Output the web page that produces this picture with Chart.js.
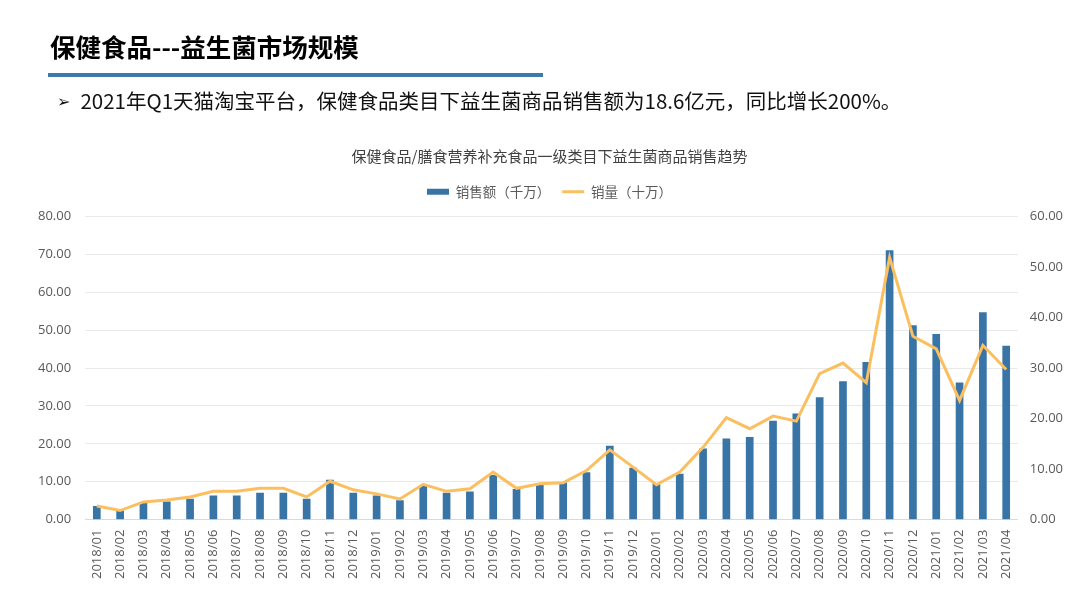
<!DOCTYPE html>
<html>
<head>
<meta charset="utf-8">
<script src="https://cdn.jsdelivr.net/npm/chart.js@4/dist/chart.umd.min.js"></script>
<style>
  body { margin: 0; background: #fff; }
  #page { position: relative; width: 1080px; height: 601px; overflow: hidden; font-family: "Noto Sans CJK SC", sans-serif; }
  #head { position: absolute; left: 50px; top: 30px; font-size: 25.5px; font-weight: bold; line-height: 32px; color: #000; }
  #rule { position: absolute; left: 48px; top: 73px; width: 495px; height: 4px; background: #3c7aab; }
  #sub { position: absolute; left: 57px; top: 86px; font-size: 20.5px; line-height: 28px; color: #111; }
  #sub .mark { font-family: "DejaVu Sans", sans-serif; font-size: 16px; margin-right: 10px; vertical-align: 2px; }
  #box { position: absolute; left: 0; top: 0; width: 1080px; height: 601px; }
</style>
</head>
<body>
<div id="page">
  <div id="box"><canvas id="salesChart"></canvas></div>
  <div id="head">保健食品---益生菌市场规模</div>
  <div id="rule"></div>
  <div id="sub"><span class="mark">➢</span>2021年Q1天猫淘宝平台，保健食品类目下益生菌商品销售额为18.6亿元，同比增长200%。</div>
</div>
<script>
// 月份
const months = [
  '2018/01','2018/02','2018/03','2018/04','2018/05','2018/06','2018/07','2018/08','2018/09','2018/10','2018/11','2018/12',
  '2019/01','2019/02','2019/03','2019/04','2019/05','2019/06','2019/07','2019/08','2019/09','2019/10','2019/11','2019/12',
  '2020/01','2020/02','2020/03','2020/04','2020/05','2020/06','2020/07','2020/08','2020/09','2020/10','2020/11','2020/12',
  '2021/01','2021/02','2021/03','2021/04'
];

// 销售额（千万）- 左轴
const salesAmount = [
  3.6, 2.4, 4.5, 4.8, 5.5, 6.4, 6.4, 7.1, 7.1, 5.5, 10.5, 7.1,
  6.4, 5.1, 9.0, 7.1, 7.4, 11.8, 8.1, 9.6, 9.9, 12.5, 19.5, 13.7,
  9.6, 12.1, 18.8, 21.4, 21.8, 26.1, 28.0, 32.3, 36.5, 41.6, 71.1, 51.3,
  49.0, 36.2, 54.7, 45.9
];

// 销量（十万）- 右轴
const salesVolume = [
  2.7, 1.8, 3.5, 3.9, 4.5, 5.6, 5.6, 6.2, 6.2, 4.5, 7.6, 5.9,
  5.1, 4.1, 7.0, 5.6, 6.1, 9.4, 6.2, 7.1, 7.3, 9.7, 13.8, 10.4,
  6.9, 9.4, 14.3, 20.2, 18.0, 20.5, 19.5, 28.9, 31.0, 27.1, 51.9, 36.3,
  33.8, 23.6, 34.5, 29.7
];

const leftTicks = [0, 10, 20, 30, 40, 50, 60, 70, 80];
const rightTicks = [0, 10, 20, 30, 40, 50, 60];

const tickFont = { family: '"Open Sans", "Noto Sans CJK SC", sans-serif', size: 13 };
const cjkFont = '"Noto Sans CJK SC", sans-serif';

// 图例下方留出空隙
const legendGap = {
  id: 'legendGap',
  beforeInit(chart) {
    const fit = chart.legend.fit;
    chart.legend.fit = function () {
      fit.call(this);
      this.height += 8;
    };
  }
};

new Chart(document.getElementById('salesChart').getContext('2d'), {
  data: {
    labels: months,
    datasets: [
      {
        type: 'line',
        label: '销量（十万）',
        data: salesVolume,
        yAxisID: 'y2',
        borderColor: '#fbbf5f',
        backgroundColor: '#fbbf5f',
        borderWidth: 3,
        pointRadius: 0,
        tension: 0,
        order: 1
      },
      {
        type: 'bar',
        label: '销售额（千万）',
        data: salesAmount,
        yAxisID: 'y',
        backgroundColor: '#3875a6',
        barPercentage: 0.33,
        categoryPercentage: 1,
        order: 2
      }
    ]
  },
  plugins: [legendGap],
  options: {
    responsive: true,
    maintainAspectRatio: false,
    animation: false,
    layout: { padding: { top: 147, left: 24, right: 5, bottom: 12 } },
    plugins: {
      title: {
        display: true,
        text: '保健食品/膳食营养补充食品一级类目下益生菌商品销售趋势',
        color: '#404040',
        font: { family: cjkFont, size: 15, weight: 'normal' },
        padding: { top: 0, bottom: 8 }
      },
      legend: {
        position: 'top',
        labels: {
          color: '#595959',
          font: { family: cjkFont, size: 13.5 },
          usePointStyle: true,
          pointStyleWidth: 22,
          boxHeight: 6,
          padding: 12,
          generateLabels(chart) {
            const items = Chart.defaults.plugins.legend.labels.generateLabels(chart);
            items.forEach(item => {
              const ds = chart.data.datasets[item.datasetIndex];
              if (ds.type === 'line') {
                item.pointStyle = 'line';
                item.strokeStyle = ds.borderColor;
                item.lineWidth = 3;
              } else {
                item.pointStyle = 'rect';
                item.fillStyle = ds.backgroundColor;
                item.lineWidth = 0;
              }
            });
            // 柱状在前，折线在后
            return items.sort((a, b) => b.datasetIndex - a.datasetIndex);
          }
        }
      },
      tooltip: { enabled: false }
    },
    scales: {
      x: {
        grid: { display: false, drawTicks: false },
        border: { color: '#d9d9d9' },
        ticks: {
          color: '#595959',
          font: tickFont,
          minRotation: 90,
          maxRotation: 90,
          autoSkip: false,
          padding: 10
        }
      },
      y: {
        position: 'left',
        min: 0,
        max: 80,
        afterBuildTicks: axis => { axis.ticks = leftTicks.map(v => ({ value: v })); },
        grid: { color: '#e9e9e9', drawTicks: false },
        border: { display: false },
        ticks: { color: '#595959', font: tickFont, padding: 14, callback: v => v.toFixed(2) }
      },
      y2: {
        position: 'right',
        min: 0,
        max: 60,
        afterBuildTicks: axis => { axis.ticks = rightTicks.map(v => ({ value: v })); },
        grid: { display: false, drawTicks: false },
        border: { display: false },
        ticks: { color: '#595959', font: tickFont, padding: 12, callback: v => v.toFixed(2) }
      }
    }
  }
});
</script>
</body>
</html>
